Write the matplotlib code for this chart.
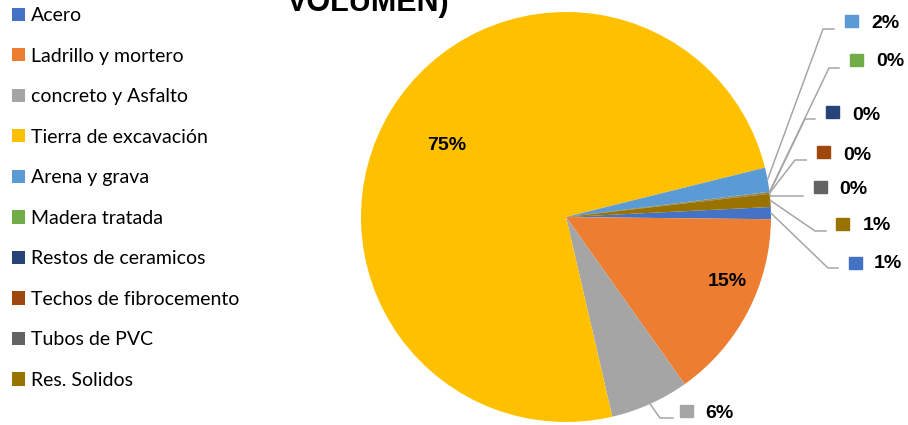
import matplotlib.pyplot as plt
import numpy as np

categories = ['Acero', 'Ladrillo y mortero', 'concreto y Asfalto', 'Tierra de excavación',
              'Arena y grava', 'Madera tratada', 'Restos de ceramicos',
              'Techos de fibrocemento', 'Tubos de PVC', 'Res. Solidos']
values = [0.95, 15.0, 6.2, 74.75, 1.9, 0.05, 0.03, 0.05, 0.03, 1.03]
colors = ['#4472C4', '#ED7D31', '#A5A5A5', '#FFC000', '#5B9BD5',
          '#70AD47', '#264478', '#9E480E', '#636363', '#997300']

# pie geometry in pixels (from top-left)
W, H = 908, 425
CX, CY, R = 566, 217, 205

def pos(x, y):
    return (x - CX) / R, (CY - y) / R

fig = plt.figure(figsize=(W / 100, H / 100), dpi=100)
ax = fig.add_axes([(CX - R) / W, (H - CY - R) / H, 2 * R / W, 2 * R / H])

wedges, _ = ax.pie(values, colors=colors, startangle=2.8, counterclock=False,
                   radius=1, wedgeprops=dict(linewidth=0))
ax.set_xlim(-1, 1)
ax.set_ylim(-1, 1)
ax.axis('off')

total = sum(values)
pct = ['%.0f%%' % (v / total * 100) for v in values]
lblfont = dict(family='Liberation Sans', fontweight='bold', fontsize=14, color='black')

# inside labels
inside = {3: (447, 146), 1: (727, 282)}
for i, (x, y) in inside.items():
    ax.text(*pos(x, y), pct[i], ha='center', va='center', **lblfont)

# outside labels: index -> (elbow, line end, square left, square centre y, text left, text y)
outside = {
    4: ((823, 29), (834, 29), 845, 21, 871, 24),
    5: ((829, 68), (839, 68), 850, 60, 876, 62),
    6: ((805, 119), (815, 119), 826, 112, 852, 115),
    7: ((795, 160), (806, 160), 817, 152, 843, 155),
    8: ((770, 196), (803, 196), 814, 187, 839, 189),
    9: ((815, 231), (826, 231), 836, 224, 863, 226),
    0: ((828, 268), (838, 268), 849, 263, 874, 264),
    2: ((660, 418), (673, 418), 680, 411, 705, 414),
}
for i, (elbow, end, sqx, sqy, tx, ty) in outside.items():
    w = wedges[i]
    ang = np.deg2rad((w.theta1 + w.theta2) / 2)
    ax0, ay0 = np.cos(ang), np.sin(ang)
    ex, ey = pos(*elbow)
    fx, fy = pos(*end)
    ax.plot([ax0, ex, fx], [ay0, ey, fy], color='#A6A6A6', lw=1.1, clip_on=False)
    s = 12.5
    x0, y0 = pos(sqx, sqy + s / 2)
    ax.add_patch(plt.Rectangle((x0, y0), s / R, s / R, color=colors[i], clip_on=False))
    ax.text(*pos(tx, ty), pct[i], ha='left', va='center', **lblfont)

fig.legend(wedges, categories, loc='upper left', bbox_to_anchor=(12 / W, 1 - 7 / H),
           frameon=False, prop=dict(family='Lato', size=14),
           handlelength=0.68, handleheight=0.68, handletextpad=0.3,
           labelspacing=1.21, borderaxespad=0, borderpad=0)

fig.text(368 / W, 1 - 11 / H, 'VOLUMEN)', ha='center', va='baseline',
         family='Liberation Sans', fontweight='bold', fontsize=22)

fig.savefig('out.png', dpi=100)
